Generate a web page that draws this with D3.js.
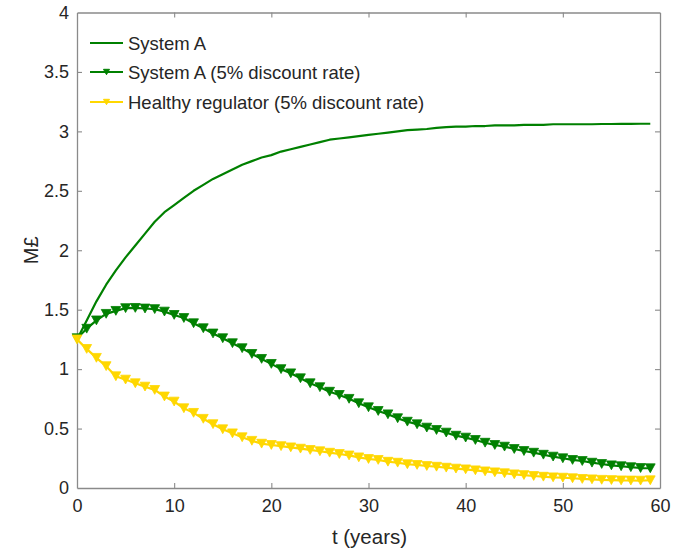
<!DOCTYPE html>
<html>
<head>
<meta charset="utf-8">
<script src="https://cdn.jsdelivr.net/npm/d3@7"></script>
<style>
  html, body { margin: 0; padding: 0; background: #fff; }
  svg text { font-family: "Liberation Sans", Arial, Helvetica, sans-serif; fill: #262626; }
</style>
</head>
<body>
<svg id="chart" width="686" height="551"></svg>
<script>
// Years 0..59
const years = d3.range(0, 60);

// Cumulative value of System A (M£)
const systemA = [
  1.25, 1.41, 1.57, 1.71, 1.83, 1.94, 2.04, 2.14, 2.24, 2.32,
  2.38, 2.44, 2.50, 2.55, 2.60, 2.64, 2.68, 2.72, 2.75, 2.78,
  2.80, 2.83, 2.85, 2.87, 2.89, 2.91, 2.93, 2.94, 2.95, 2.96,
  2.97, 2.98, 2.99, 3.00, 3.01, 3.015, 3.02, 3.03, 3.035, 3.04,
  3.04, 3.045, 3.045, 3.05, 3.05, 3.05, 3.055, 3.055, 3.055, 3.06,
  3.06, 3.06, 3.06, 3.06, 3.062, 3.062, 3.063, 3.063, 3.064, 3.064
];

// System A discounted at 5% (M£)
const systemADiscounted = [
  1.26, 1.34, 1.41, 1.465, 1.49, 1.513, 1.515, 1.51, 1.505, 1.484,
  1.456, 1.43, 1.386, 1.344, 1.30, 1.26, 1.218, 1.176, 1.128, 1.086,
  1.044, 1.00, 0.965, 0.923, 0.881, 0.848, 0.81, 0.783, 0.75, 0.713,
  0.679, 0.648, 0.62, 0.587, 0.558, 0.536, 0.508, 0.488, 0.466, 0.44,
  0.424, 0.404, 0.381, 0.362, 0.348, 0.328, 0.311, 0.297, 0.28, 0.264,
  0.25, 0.236, 0.227, 0.213, 0.202, 0.191, 0.183, 0.175, 0.168, 0.166
];

// Healthy regulator discounted at 5% (M£)
const healthyDiscounted = [
  1.25, 1.17, 1.095, 1.025, 0.94, 0.912, 0.881, 0.853, 0.825, 0.77,
  0.727, 0.671, 0.632, 0.582, 0.537, 0.494, 0.46, 0.427, 0.397, 0.373,
  0.362, 0.352, 0.342, 0.331, 0.32, 0.309, 0.297, 0.286, 0.274, 0.258,
  0.244, 0.236, 0.221, 0.213, 0.2, 0.194, 0.185, 0.179, 0.171, 0.163,
  0.157, 0.149, 0.14, 0.132, 0.124, 0.115, 0.109, 0.101, 0.095, 0.09,
  0.087, 0.082, 0.076, 0.073, 0.069, 0.067, 0.064, 0.063, 0.062, 0.065
];

const xTicks = [0, 10, 20, 30, 40, 50, 60];
const yTicks = [0, 0.5, 1, 1.5, 2, 2.5, 3, 3.5, 4];

const seriesNames = [
  "System A",
  "System A (5% discount rate)",
  "Healthy regulator (5% discount rate)"
];
const seriesColors = ["#008000", "#008000", "#ffd700"];

const svg = d3.select("#chart");
const plotLeft = 77, plotRight = 660, plotTop = 12.5, plotBottom = 488;

const x = d3.scaleLinear().domain([0, 60]).range([plotLeft, plotRight]);
const y = d3.scaleLinear().domain([0, 4]).range([plotBottom, plotTop]);

const axisColor = "#8a8a8a";

// Down-pointing triangle marker
const triDown = {
  draw(ctx, size) {
    const w = Math.sqrt(size);
    const h = w * 0.9;
    ctx.moveTo(-w / 2, -h / 2);
    ctx.lineTo(w / 2, -h / 2);
    ctx.lineTo(0, h / 2);
    ctx.closePath();
  }
};

// Axes (ticks pointing inward), mirrored on top and right
const gx = svg.append("g").attr("transform", `translate(0,${plotBottom})`)
  .call(d3.axisBottom(x).tickValues(xTicks).tickSizeInner(-5).tickSizeOuter(0).tickPadding(11).tickFormat(d3.format("d")));
const gy = svg.append("g").attr("transform", `translate(${plotLeft},0)`)
  .call(d3.axisLeft(y).tickValues(yTicks).tickSizeInner(-5).tickSizeOuter(0).tickPadding(8).tickFormat(d => String(d)));
const gxTop = svg.append("g").attr("transform", `translate(0,${plotTop})`)
  .call(d3.axisTop(x).tickValues(xTicks).tickSizeInner(-5).tickSizeOuter(0).tickFormat(""));
const gyRight = svg.append("g").attr("transform", `translate(${plotRight},0)`)
  .call(d3.axisRight(y).tickValues(yTicks).tickSizeInner(-5).tickSizeOuter(0).tickFormat(""));

[gx, gy, gxTop, gyRight].forEach(g => {
  g.selectAll("path.domain").attr("stroke", axisColor).attr("stroke-width", 1.3);
  g.selectAll(".tick line").attr("stroke", axisColor).attr("stroke-width", 1.1);
  g.selectAll(".tick text").attr("font-size", 18)
    .attr("font-family", "Liberation Sans, Arial, sans-serif").attr("fill", "#262626");
});
[gx, gxTop].forEach(g => g.selectAll(".tick").filter(d => d === 0 || d === 60).select("line").remove());
[gy, gyRight].forEach(g => g.selectAll(".tick").filter(d => d === 0 || d === 4).select("line").remove());

// Axis labels
svg.append("text").attr("x", (plotLeft + plotRight) / 2 + 1).attr("y", 544)
  .attr("text-anchor", "middle").attr("font-size", 20.5).text("t (years)");
svg.append("text").attr("transform", `translate(38,${(plotTop + plotBottom) / 2}) rotate(-90)`)
  .attr("text-anchor", "middle").attr("font-size", 20).text("M£");

const line = d3.line().x((d, i) => x(years[i])).y(d => y(d));

// System A, solid line
svg.append("path").datum(systemA)
  .attr("fill", "none").attr("stroke", seriesColors[0]).attr("stroke-width", 2.2)
  .attr("stroke-linejoin", "round").attr("d", line);

// Discounted series with triangle markers
function markedSeries(values, color) {
  svg.append("path").datum(values)
    .attr("fill", "none").attr("stroke", color).attr("stroke-width", 2.2)
    .attr("stroke-linejoin", "round").attr("d", line);
  svg.append("g").selectAll("path").data(values).join("path")
    .attr("transform", (d, i) => `translate(${x(years[i])},${y(d)})`)
    .attr("d", d3.symbol(triDown, 96))
    .attr("fill", color).attr("stroke", color).attr("stroke-width", 0.8);
}
markedSeries(systemADiscounted, seriesColors[1]);
markedSeries(healthyDiscounted, seriesColors[2]);

// Legend
const legend = svg.append("g");
const legendRows = [43, 72, 102];
seriesNames.forEach((name, i) => {
  const ly = legendRows[i];
  legend.append("line").attr("x1", 90).attr("x2", 123).attr("y1", ly).attr("y2", ly)
    .attr("stroke", seriesColors[i]).attr("stroke-width", 2.2);
  if (i > 0) {
    legend.append("path").attr("transform", `translate(106.5,${ly})`)
      .attr("d", d3.symbol(triDown, 36)).attr("fill", seriesColors[i]).attr("stroke", seriesColors[i]);
  }
  legend.append("text").attr("x", 128).attr("y", ly + 6.5)
    .attr("font-size", 18.5).text(name);
});
</script>
</body>
</html>
